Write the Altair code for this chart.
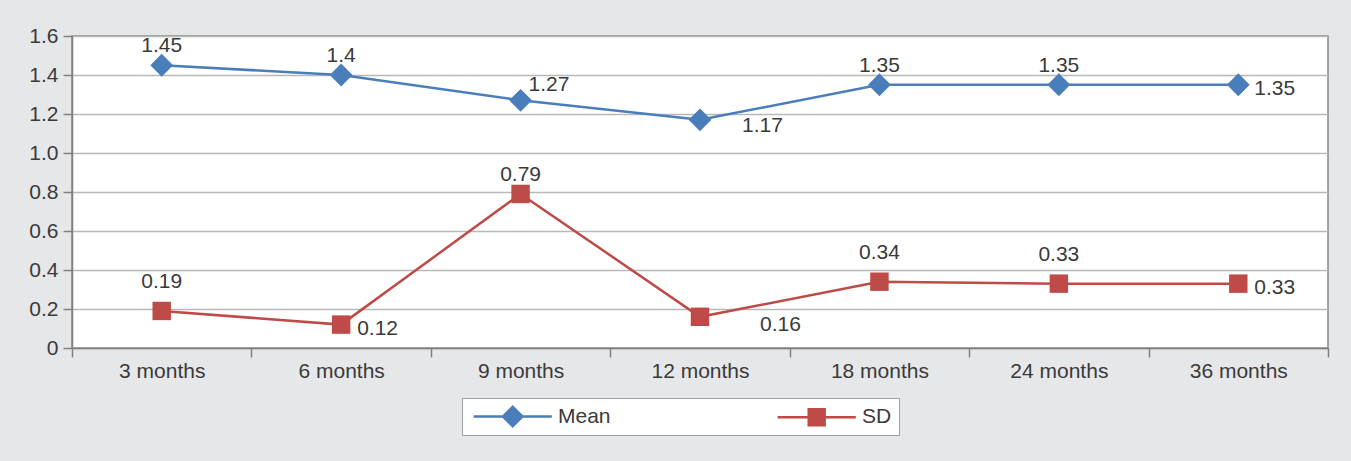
import altair as alt
import pandas as pd

# Follow-up time points and the two series plotted against them
periods = ["3 months", "6 months", "9 months", "12 months", "18 months", "24 months", "36 months"]
mean_values = [1.45, 1.4, 1.27, 1.17, 1.35, 1.35, 1.35]
sd_values = [0.19, 0.12, 0.79, 0.16, 0.34, 0.33, 0.33]

# Where each value label sits relative to its point
mean_label_spots = ["above", "above", "above_right", "below_right", "above", "above", "right"]
sd_label_spots = ["high", "right", "above", "far_right", "high", "high", "right"]

series_names = ["Mean", "SD"]
series_colors = ["#4a7ebb", "#be4b48"]
series_shapes = ["diamond", "square"]
series_sizes = [520, 340]

FONT = "Liberation Sans"
TEXT_COLOR = "#3a3a3a"
FONT_SIZE = 21

# Label placement styles
SPOTS = {
    "above": dict(align="center", dx=0, dy=-19),
    "high": dict(align="center", dx=0, dy=-29),
    "above_right": dict(align="left", dx=8, dy=-15),
    "below_right": dict(align="left", dx=42, dy=6),
    "right": dict(align="left", dx=16, dy=4),
    "far_right": dict(align="left", dx=60, dy=8),
}

df = pd.concat(
    [
        pd.DataFrame({"period": periods, "value": mean_values, "series": "Mean", "spot": mean_label_spots}),
        pd.DataFrame({"period": periods, "value": sd_values, "series": "SD", "spot": sd_label_spots}),
    ],
    ignore_index=True,
)

x_enc = alt.X(
    "period:N",
    sort=periods,
    scale=alt.Scale(type="band", paddingInner=0, paddingOuter=0),
    axis=alt.Axis(
        title=None,
        labelAngle=0,
        tickBand="extent",
        ticks=True,
        tickSize=9,
        tickColor="#808080",
        tickWidth=1.5,
        domainColor="#808080",
        domainWidth=1.5,
        labelFont=FONT,
        labelFontSize=FONT_SIZE,
        labelColor=TEXT_COLOR,
        labelPadding=3,
        grid=False,
    ),
)

y_enc = alt.Y(
    "value:Q",
    scale=alt.Scale(domain=[0, 1.6], nice=False, zero=True),
    axis=alt.Axis(
        title=None,
        values=[0, 0.2, 0.4, 0.6, 0.8, 1.0, 1.2, 1.4, 1.6],
        labelExpr="datum.value == 0 ? '0' : format(datum.value, '.1f')",
        tickSize=9,
        tickColor="#808080",
        tickWidth=1.5,
        domainColor="#808080",
        domainWidth=1.5,
        gridColor="#b8b8b8",
        gridWidth=1.5,
        labelFont=FONT,
        labelFontSize=FONT_SIZE,
        labelColor=TEXT_COLOR,
        labelPadding=5,
    ),
)

base = alt.Chart(df)

series_layers = []
for name, color, shape, size in zip(series_names, series_colors, series_shapes, series_sizes):
    part = base.transform_filter(f"datum.series == '{name}'")
    series_layers.append(part.mark_line(strokeWidth=2.5, color=color).encode(x=x_enc, y=y_enc))
    series_layers.append(
        part.mark_point(shape=shape, filled=True, size=size, opacity=1, color=color).encode(x=x_enc, y=y_enc)
    )

label_layers = []
for spot, style in SPOTS.items():
    label_layers.append(
        base.transform_filter(f"datum.spot == '{spot}'")
        .mark_text(font=FONT, fontSize=FONT_SIZE, color=TEXT_COLOR, baseline="middle", **style)
        .encode(x=x_enc, y=y_enc, text=alt.Text("value:Q"))
    )

# Legend symbols: a short line through the marker, shifted right inside the symbol slot
legend_paths = [
    "M-0.6,-0.11H1.9V0.11H-0.6Z M1.8,0L2.8,-1L3.8,0L2.8,1Z M3.7,-0.11H6.2V0.11H3.7Z",
    "M-0.6,-0.11H2V0.11H-0.6Z M2,-0.8H3.6V0.8H2Z M3.6,-0.11H6.2V0.11H3.6Z",
]
legend_opts = dict(
    orient="none",
    legendX=390,
    legendY=362,
    direction="horizontal",
    title=None,
    fillColor="white",
    strokeColor="#a0a0a0",
    padding=7,
    labelFont=FONT,
    labelFontSize=FONT_SIZE,
    labelColor=TEXT_COLOR,
    labelOffset=66,
    columnPadding=162,
    symbolStrokeWidth=0,
    symbolSize=529,
)

legend_layer = base.mark_point(filled=True, size=529, opacity=0).encode(
    x=x_enc,
    y=y_enc,
    color=alt.Color(
        "series:N",
        scale=alt.Scale(domain=series_names, range=series_colors),
        legend=alt.Legend(**legend_opts),
    ),
    shape=alt.Shape(
        "series:N",
        scale=alt.Scale(domain=series_names, range=legend_paths),
        legend=alt.Legend(**legend_opts, symbolOpacity=1),
    ),
)

chart = (
    alt.layer(*series_layers, *label_layers, legend_layer)
    .properties(
        width=1256,
        height=312,
        background="#e6e7e9",
        padding={"left": 72, "top": 36, "right": 23, "bottom": 113},
        autosize=alt.AutoSizeParams(type="none"),
    )
    .configure_view(fill="white", stroke="#868686", strokeWidth=1.5)
)

chart.save("out.html", embed_options={"renderer": "svg", "actions": False})
